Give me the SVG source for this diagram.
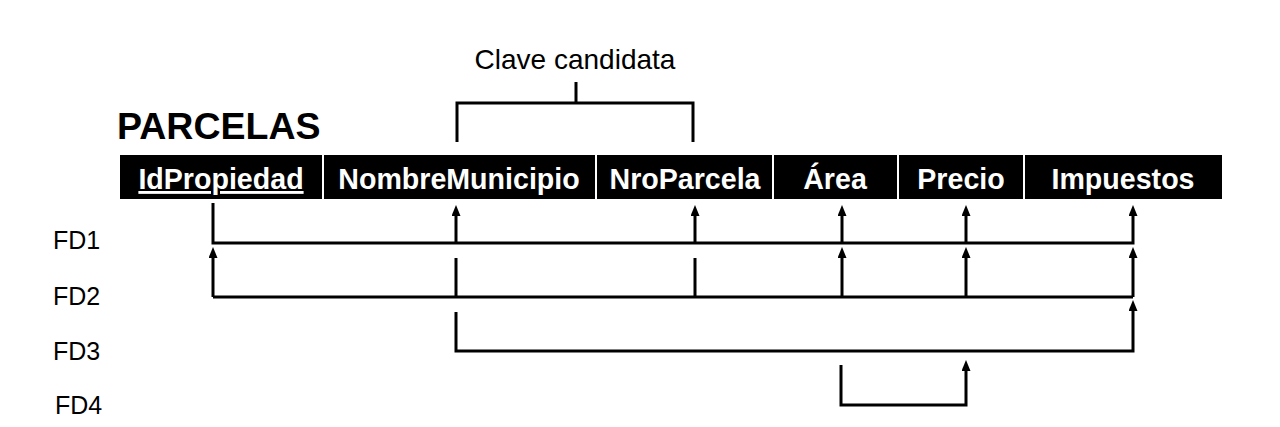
<svg xmlns="http://www.w3.org/2000/svg" width="1280" height="427" viewBox="0 0 1280 427">
<style>
.cell{fill:#000}
.attr{font-family:"Liberation Sans",Arial,sans-serif;font-weight:bold;font-size:28.6px;fill:#fff;text-anchor:middle}
.lbl{font-family:"Liberation Sans",Arial,sans-serif;font-size:25px;fill:#000}
.ln{fill:none;stroke:#000;stroke-width:3;stroke-linejoin:miter}
.arr{marker-end:url(#ah)}
</style>
<defs>
<marker id="ah" viewBox="0 0 11 9" markerWidth="11" markerHeight="9" refX="4" refY="4.5" orient="auto" markerUnits="userSpaceOnUse">
<path d="M0,0 L11,4.5 L0,9 z" fill="#000"/>
</marker>
</defs>
<rect width="1280" height="427" fill="#fff"/>
<g id="title">
<text x="117" y="139" font-family="'Liberation Sans',Arial,sans-serif" font-weight="bold" font-size="37.5">PARCELAS</text>
</g>
<g id="clave">
<text x="575" y="69" text-anchor="middle" font-family="'Liberation Sans',Arial,sans-serif" font-size="28">Clave candidata</text>
<path class="ln" d="M457 142 V103 H693 V142 M576 82 V103"/>
</g>
<g id="IdPropiedad"><rect class="cell" x="120" y="155" width="202" height="44"/><text class="attr" x="221" y="189" text-decoration="underline">IdPropiedad</text></g>
<g id="NombreMunicipio"><rect class="cell" x="324" y="155" width="271" height="44"/><text class="attr" x="459" y="189">NombreMunicipio</text></g>
<g id="NroParcela"><rect class="cell" x="597" y="155" width="175" height="44"/><text class="attr" x="685" y="189">NroParcela</text></g>
<g id="Area"><rect class="cell" x="774" y="155" width="123" height="44"/><text class="attr" x="835" y="189">Área</text></g>
<g id="Precio"><rect class="cell" x="899" y="155" width="124" height="44"/><text class="attr" x="961" y="189">Precio</text></g>
<g id="Impuestos"><rect class="cell" x="1025" y="155" width="197" height="44"/><text class="attr" x="1123" y="189">Impuestos</text></g>
<g id="FD1"><text class="lbl" x="53" y="249">FD1</text></g>
<g id="FD2"><text class="lbl" x="53" y="305">FD2</text></g>
<g id="FD3"><text class="lbl" x="53" y="360">FD3</text></g>
<g id="FD4"><text class="lbl" x="55" y="414">FD4</text></g>
<g id="connectors">
<path class="ln arr" d="M213 203 V243 H1133 V212"/>
<path class="ln arr" d="M456 243 V212"/>
<path class="ln arr" d="M695 243 V212"/>
<path class="ln arr" d="M842 243 V212"/>
<path class="ln arr" d="M966 243 V212"/>
<path class="ln" d="M456 258 V297 M695 258 V297"/>
<path class="ln" d="M213 297 H1133"/>
<path class="ln arr" d="M213 297 V254"/>
<path class="ln arr" d="M842 297 V254"/>
<path class="ln arr" d="M966 297 V254"/>
<path class="ln arr" d="M1133 297 V254"/>
<path class="ln arr" d="M456 312 V351 H1133 V307"/>
<path class="ln arr" d="M841 365 V405 H966 V367"/>
</g>
</svg>
